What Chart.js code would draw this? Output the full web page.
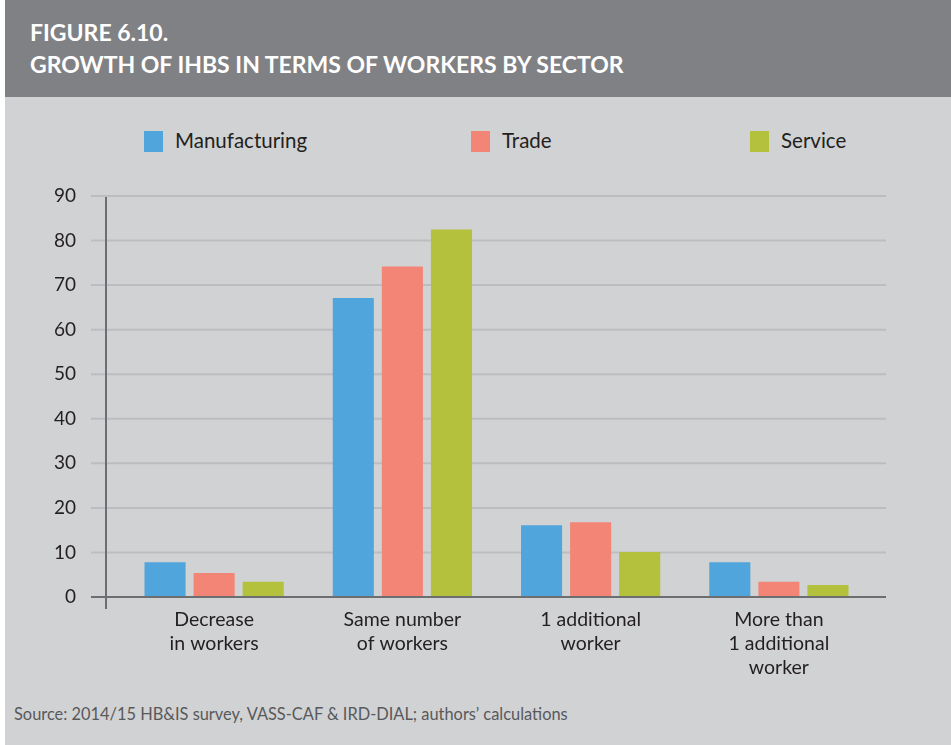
<!DOCTYPE html>
<html>
<head>
<meta charset="utf-8">
<script src="https://cdn.jsdelivr.net/npm/chart.js@4.4.1/dist/chart.umd.min.js"></script>
<style>
  html, body { margin: 0; padding: 0; background: #fff; }
  #page {
    position: absolute; left: 5px; top: 0; width: 946px; height: 745px;
    background: #d1d2d4; font-family: Lato, "Open Sans", sans-serif; overflow: hidden;
  }
  #header {
    position: absolute; left: 0; top: 0; width: 946px; height: 97px; background: #808184;
  }
  #header div {
    position: absolute; left: 25px; color: #fff; font-weight: bold; font-size: 23px;
  }
  #legend span.item { position: absolute; top: 128px; font-size: 20.5px; color: #231f20; white-space: nowrap; }
  #legend span.box { display: inline-block; width: 19px; height: 21px; vertical-align: -4px; margin-right: 12px; }
  #source { position: absolute; left: 9px; top: 704px; font-size: 16.4px; color: #58595b; white-space: nowrap; }
  #chartBox { position: absolute; left: 0; top: 97px; width: 946px; height: 600px; }
</style>
</head>
<body>
<div id="page">
  <div id="header">
    <div style="top:18px">FIGURE 6.10.</div>
    <div style="top:50px">GROWTH OF IHBS IN TERMS OF WORKERS BY SECTOR</div>
  </div>
  <div id="legend"></div>
  <div id="chartBox"><canvas id="workersChart"></canvas></div>
  <div id="source">Source: 2014/15 HB&amp;IS survey, VASS-CAF &amp; IRD-DIAL; authors’ calculations</div>
</div>

<script>
// Données
const categories = [
    ['Decrease', 'in workers'],
    ['Same number', 'of workers'],
    ['1 additional', 'worker'],
    ['More than', '1 additional', 'worker']
];
const seriesNames = ['Manufacturing', 'Trade', 'Service'];
const seriesColors = ['#4fa5dc', '#f38577', '#b3c13c'];
const manufacturing = [7.8, 67.1, 16.1, 7.8];
const trade = [5.4, 74.2, 16.8, 3.4];
const service = [3.4, 82.5, 10.1, 2.7];
const yTicks = [0, 10, 20, 30, 40, 50, 60, 70, 80, 90];

// Légende HTML (positions étalées comme dans l'original)
const legendLeft = [139, 466, 745];
const legend = document.getElementById('legend');
seriesNames.forEach((name, i) => {
    const item = document.createElement('span');
    item.className = 'item';
    item.style.left = legendLeft[i] + 'px';
    item.innerHTML = '<span class="box" style="background:' + seriesColors[i] + '"></span>' + name;
    legend.appendChild(item);
});

// Grille et axes dessinés à la main (ils dépassent de la zone du graphique)
const gridPlugin = {
    id: 'customGrid',
    beforeDatasetsDraw(chart) {
        const ctx = chart.ctx;
        const y = chart.scales.y;
        const area = chart.chartArea;
        const x0 = area.left - 29, x1 = area.right + 13;
        ctx.save();
        ctx.lineWidth = 2;
        yTicks.forEach(v => {
            if (v === 0) return;
            const py = y.getPixelForValue(v);
            ctx.strokeStyle = '#bcbdc0';
            ctx.beginPath();
            ctx.moveTo(x0, py);
            ctx.lineTo(x1, py);
            ctx.stroke();
        });
        ctx.restore();
    },
    afterDatasetsDraw(chart) {
        const ctx = chart.ctx;
        const y = chart.scales.y;
        const area = chart.chartArea;
        const x0 = area.left - 29, x1 = area.right + 13;
        const py0 = y.getPixelForValue(0);
        const axisX = area.left - 14;
        ctx.save();
        ctx.lineWidth = 2;
        ctx.strokeStyle = '#6d6e71';
        ctx.beginPath();
        ctx.moveTo(x0, py0);
        ctx.lineTo(x1, py0);
        ctx.stroke();
        ctx.beginPath();
        ctx.moveTo(axisX, y.getPixelForValue(90) + 1);
        ctx.lineTo(axisX, py0 + 12);
        ctx.stroke();
        ctx.restore();
    }
};

const ctx = document.getElementById('workersChart').getContext('2d');
new Chart(ctx, {
    type: 'bar',
    data: {
        labels: categories,
        datasets: [
            { label: seriesNames[0], data: manufacturing, backgroundColor: seriesColors[0] },
            { label: seriesNames[1], data: trade, backgroundColor: seriesColors[1] },
            { label: seriesNames[2], data: service, backgroundColor: seriesColors[2] }
        ]
    },
    options: {
        responsive: true,
        maintainAspectRatio: false,
        animation: false,
        categoryPercentage: 0.782,
        barPercentage: 0.837,
        layout: { padding: { top: 99, right: 78, left: 0, bottom: 0 } },
        plugins: {
            legend: { display: false },
            tooltip: { enabled: false }
        },
        scales: {
            x: {
                grid: { display: false, drawTicks: false },
                border: { display: false },
                afterFit: scale => { scale.height = 100; },
                ticks: {
                    color: '#231f20',
                    padding: 11,
                    maxRotation: 0,
                    autoSkip: false,
                    font: { family: 'Lato', size: 19.5, lineHeight: 1.23 }
                }
            },
            y: {
                min: 0,
                max: 90,
                afterFit: scale => { scale.width = 115; },
                afterBuildTicks: scale => { scale.ticks = yTicks.map(v => ({ value: v })); },
                grid: { display: false, drawTicks: false },
                border: { display: false },
                ticks: {
                    color: '#231f20',
                    padding: 44,
                    font: { family: 'Lato', size: 19 }
                }
            }
        }
    },
    plugins: [gridPlugin]
});
</script>
</body>
</html>
